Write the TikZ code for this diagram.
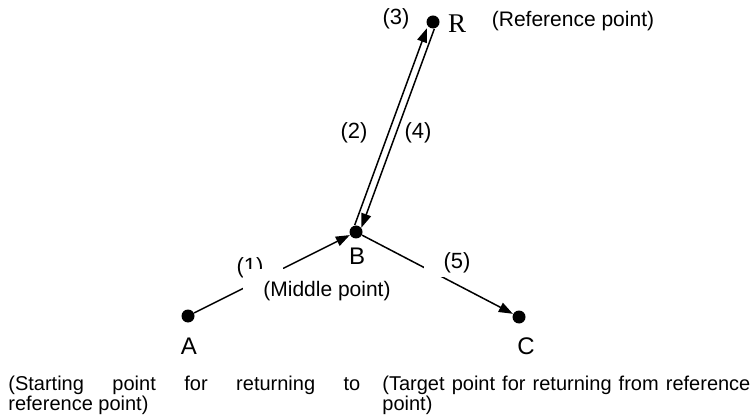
\documentclass[tikz,border=0pt]{standalone}
\usepackage{fontspec}
\setmainfont{Liberation Sans}
\newfontfamily\serifR{Liberation Serif}
\usetikzlibrary{arrows.meta,calc}

\begin{document}
\begin{tikzpicture}[x=0.5pt,y=-0.5pt,
  pt/.style={circle,fill=black,inner sep=0pt,minimum size=6.5pt},
  tag/.style={font=\fontsize{11}{13}\selectfont,inner sep=1pt},
  mask/.style={tag,fill=white,inner xsep=10pt,inner ysep=2pt},
  letter/.style={font=\fontsize{12}{14}\selectfont,inner sep=1pt},
  note/.style={font=\fontsize{10.5}{12}\selectfont,inner sep=0pt},
  para/.style={anchor=north west,align=justify,inner sep=0pt,
    font=\fontsize{10}{9.6}\selectfont},
  flow/.style={-{Triangle[length=7pt,width=5pt]},line width=0.75pt}]
  \useasboundingbox (0,0) rectangle (753,416);
  % points
  \node[pt] (A) at (188,316) {};
  \node[pt] (B) at (356,232) {};
  \node[pt] (C) at (519,317) {};
  \node[pt] (R) at (433,22) {};
  % connectors
  \draw[flow] (A) -- (B);
  \draw[flow] (B) -- (C);
  \draw[flow,shorten <=3pt,shorten >=4pt] ($(B)!1.8pt!90:(R)$) -- ($(R)!1.8pt!-90:(B)$);
  \draw[flow,shorten <=3pt,shorten >=3pt] ($(R)!1.8pt!90:(B)$) -- ($(B)!1.8pt!-90:(R)$);
  % step labels
  \node[tag]  (s2) at (354,133) {(2)};
  \node[tag]  (s3) at (396,19)  {(3)};
  \node[tag]  (s4) at (418,133) {(4)};
  \node[mask] (s5) at (457,263) {(5)};
  \node[mask] (s1) at (250,268) {(1)};
  \node[note,fill=white,inner xsep=10pt,inner ysep=6pt] (mid) at (327,291) {(Middle point)};
  % point names
  \node[letter] (lA) at (189,346) {A};
  \node[letter] (lB) at (357,256) {B};
  \node[letter] (lC) at (526,346) {C};
  \node[letter,font=\serifR\fontsize{13.5}{15}\selectfont] (lR) at (457,24) {R};
  \node[note] (ref) at (573,21) {(Reference point)};
  % notes
  \node[para,text width=176pt] (startnote) at (8,376)
    {(Starting point for returning to\linebreak reference point)};
  \node[para,text width=184pt] (targetnote) at (382,376)
    {(Target point for returning from reference\linebreak point)};
\end{tikzpicture}
\end{document}
